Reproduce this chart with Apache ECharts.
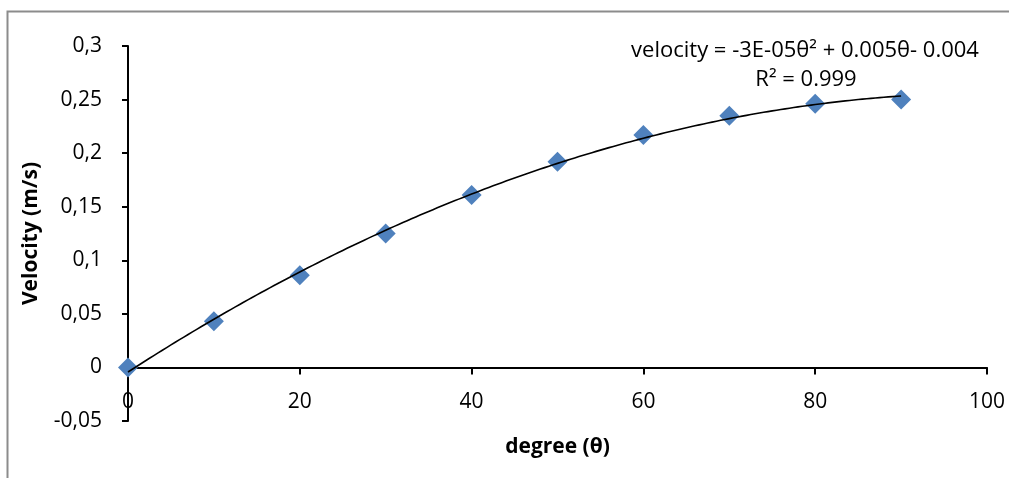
<!DOCTYPE html>
<html>
<head>
<meta charset="utf-8">
<script src="https://cdn.jsdelivr.net/npm/echarts@6/dist/echarts.min.js"></script>
<style>
html,body{margin:0;padding:0;background:#fff;}
#chart{width:1009px;height:478px;}
</style>
</head>
<body>
<div id="chart"></div>
<script>
// Data
const degrees = [0, 10, 20, 30, 40, 50, 60, 70, 80, 90];
const velocities = [0, 0.043, 0.086, 0.125, 0.161, 0.192, 0.217, 0.235, 0.246, 0.250];
const xTicks = [0, 20, 40, 60, 80, 100];
const yTicks = [-0.05, 0, 0.05, 0.1, 0.15, 0.2, 0.25, 0.3];
const equationText = 'velocity = -3E-05θ² + 0.005θ- 0.004';
const r2Text = 'R² = 0.999';
const xTitle = 'degree (θ)';
const yTitle = 'Velocity (m/s)';

// Quadratic least-squares trendline fitted to the data (as the spreadsheet does)
function fitQuadratic(xs, ys) {
  let S = [0,0,0,0,0], T = [0,0,0];
  for (let i = 0; i < xs.length; i++) {
    let p = 1;
    for (let k = 0; k < 5; k++) { S[k] += p; if (k < 3) T[k] += p * ys[i]; p *= xs[i]; }
  }
  const A = [[S[0],S[1],S[2],T[0]],[S[1],S[2],S[3],T[1]],[S[2],S[3],S[4],T[2]]];
  for (let c = 0; c < 3; c++) {
    for (let r = c + 1; r < 3; r++) {
      const f = A[r][c] / A[c][c];
      for (let k = c; k < 4; k++) A[r][k] -= f * A[c][k];
    }
  }
  const b = [0,0,0];
  for (let r = 2; r >= 0; r--) {
    let s = A[r][3];
    for (let k = r + 1; k < 3; k++) s -= A[r][k] * b[k];
    b[r] = s / A[r][r];
  }
  return b; // c0, c1, c2
}
const coef = fitQuadratic(degrees, velocities);
const trend = [];
for (let x = degrees[0]; x <= degrees[degrees.length - 1] + 1e-9; x += 0.5) {
  trend.push([x, coef[0] + coef[1] * x + coef[2] * x * x]);
}

const FONT = "'Open Sans', 'Noto Sans', 'DejaVu Sans', sans-serif";
const GRID_TOP = 46, GRID_BOTTOM = 57, H = 478;
const plotH = H - GRID_TOP - GRID_BOTTOM;
const yMin = yTicks[0], yMax = yTicks[yTicks.length - 1];
// pixel distance from the bottom of the plot up to the zero line
const zeroOffset = plotH * (0 - yMin) / (yMax - yMin);

const chart = echarts.init(document.getElementById('chart'), null, {renderer: 'canvas'});
chart.setOption({
  animation: false,
  backgroundColor: '#ffffff',
  grid: {left: 128, right: 22, top: GRID_TOP, bottom: GRID_BOTTOM, containLabel: false, outerBoundsMode: 'none'},
  xAxis: {
    type: 'value', min: xTicks[0], max: xTicks[xTicks.length - 1], interval: 20,
    position: 'bottom', offset: -zeroOffset,
    axisLine: {onZero: false, lineStyle: {color: '#000', width: 2}},
    axisTick: {show: true, inside: false, length: 7, lineStyle: {color: '#000', width: 2}},
    axisLabel: {color: '#000', fontSize: 21, fontFamily: FONT, margin: 24},
    splitLine: {show: false},
    name: xTitle, nameLocation: 'middle', nameGap: 69,
    nameTextStyle: {color: '#000', fontSize: 21, fontWeight: 'bold', fontFamily: FONT}
  },
  yAxis: {
    type: 'value', min: yMin, max: yMax, interval: 0.05,
    axisLine: {show: true, onZero: false, lineStyle: {color: '#000', width: 2}},
    axisTick: {show: true, inside: false, length: 6, lineStyle: {color: '#000', width: 2}},
    axisLabel: {color: '#000', fontSize: 21, fontFamily: FONT, margin: 26,
      formatter: v => String(Math.round(v * 100) / 100).replace('.', ',')},
    splitLine: {show: false},
    name: yTitle, nameLocation: 'middle', nameGap: 86, nameRotate: 90,
    nameTextStyle: {color: '#000', fontSize: 21, fontWeight: 'bold', fontFamily: FONT}
  },
  series: [
    {
      type: 'scatter', data: degrees.map((d, i) => [d, velocities[i]]),
      symbol: 'diamond', symbolSize: 20,
      itemStyle: {color: '#4F81BD', opacity: 1}, z: 2
    },
    {
      type: 'line', data: trend, showSymbol: false, symbol: 'none', smooth: false,
      lineStyle: {color: '#000', width: 1.6}, z: 3
    }
  ],
  graphic: [
    {type: 'rect', shape: {x: 7.5, y: 11.5, width: 1010, height: 480},
     style: {fill: 'none', stroke: '#8c8c8c', lineWidth: 2}, z: -1, silent: true},
    {type: 'text', x: 805, y: 51, style: {text: equationText, fill: '#000', font: '22px ' + FONT, textAlign: 'center', textVerticalAlign: 'middle'}},
    {type: 'text', x: 806, y: 80, style: {text: r2Text, fill: '#000', font: '22px ' + FONT, textAlign: 'center', textVerticalAlign: 'middle'}}
  ]
});
</script>
</body>
</html>
